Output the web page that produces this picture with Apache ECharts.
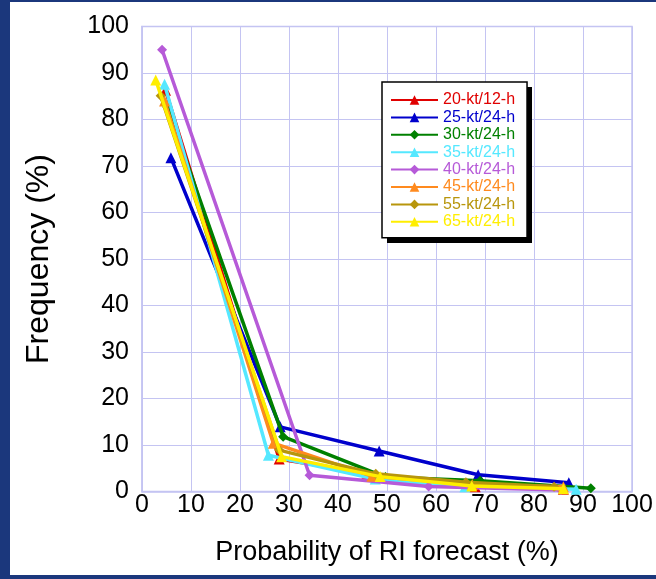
<!DOCTYPE html>
<html>
<head>
<meta charset="utf-8">
<script src="https://cdn.jsdelivr.net/npm/echarts@6/dist/echarts.min.js"></script>
<style>
  html, body { margin: 0; padding: 0; width: 656px; height: 579px; background: #1b377c; overflow: hidden; }
  #panel { position: absolute; left: 10px; top: 2px; width: 646px; height: 573px; background: #ffffff; }
  #chart { width: 646px; height: 573px; }
</style>
</head>
<body>
<div id="panel"><div id="chart"></div></div>
<script>
// Reliability of rapid-intensification (RI) forecasts: frequency vs forecast probability
const seriesNames = ['20-kt/12-h', '25-kt/24-h', '30-kt/24-h', '35-kt/24-h', '40-kt/24-h', '45-kt/24-h', '55-kt/24-h', '65-kt/24-h'];
const seriesColors = ['#e00000', '#0000cc', '#008000', '#55e8ff', '#b65ad8', '#ff8a1e', '#b8960c', '#ffee00'];
const seriesSymbols = ['triangle', 'triangle', 'diamond', 'triangle', 'diamond', 'triangle', 'diamond', 'triangle'];

// [probability %, frequency %]
const kt20h12 = [[4.8, 86.3], [28.0, 7.0], [45.9, 3.9], [68.0, 1.0], [86.0, 0.5]];
const kt25h24 = [[5.9, 71.8], [28.2, 13.9], [48.4, 8.7], [68.6, 3.6], [87.1, 1.9]];
const kt30h24 = [[5.2, 82.6], [28.8, 11.8], [49.7, 3.1], [69.0, 2.3], [91.6, 0.7]];
const kt35h24 = [[4.6, 87.6], [25.8, 7.8], [47.6, 2.7], [65.9, 1.0], [88.6, 0.5]];
const kt40h24 = [[4.1, 95.0], [34.2, 3.5], [58.5, 1.1], [85.5, 0.3]];
const kt45h24 = [[4.6, 84.0], [26.8, 10.4], [46.9, 3.3], [67.4, 1.5], [86.0, 1.0]];
const kt55h24 = [[3.8, 85.1], [28.0, 8.9], [47.7, 3.8], [66.1, 2.0], [84.1, 1.0]];
const kt65h24 = [[2.8, 88.5], [28.5, 7.5], [48.6, 3.2], [67.3, 1.2], [86.0, 0.6]];
const seriesData = [kt20h12, kt25h24, kt30h24, kt35h24, kt40h24, kt45h24, kt55h24, kt65h24];

const xTicks = [0, 10, 20, 30, 40, 50, 60, 70, 80, 90, 100];
const yTicks = [0, 10, 20, 30, 40, 50, 60, 70, 80, 90, 100];

const gridColor = '#c4c4f2';
const font = 'Arial, "Liberation Sans", sans-serif';

// legend frame geometry (chart-relative pixels)
const legendBox = { x: 372, y: 80, w: 145, h: 156 };

const chart = echarts.init(document.getElementById('chart'), null, { renderer: 'canvas' });

chart.setOption({
  backgroundColor: '#ffffff',
  animation: false,
  textStyle: { fontFamily: font },
  grid: {
    left: 132, top: 24.5, width: 490, height: 465,
    show: true, borderColor: gridColor, borderWidth: 1.5, backgroundColor: '#ffffff'
  },
  graphic: [{
    type: 'rect',
    z: 20,
    shape: { x: legendBox.x + 5, y: legendBox.y + 5, width: legendBox.w, height: legendBox.h },
    style: { fill: '#000' }
  }],
  xAxis: {
    type: 'value',
    min: xTicks[0], max: xTicks[xTicks.length - 1], interval: 10,
    axisLine: { show: true, lineStyle: { color: gridColor, width: 1.5 } },
    axisTick: { show: false },
    splitLine: { show: true, lineStyle: { color: gridColor, width: 1 } },
    axisLabel: { color: '#000', fontSize: 25, fontFamily: font, margin: 1 },
    name: 'Probability of RI forecast (%)',
    nameLocation: 'middle',
    nameGap: 48,
    nameTextStyle: { color: '#000', fontSize: 27, fontFamily: font }
  },
  yAxis: {
    type: 'value',
    min: yTicks[0], max: yTicks[yTicks.length - 1], interval: 10,
    axisLine: { show: true, lineStyle: { color: gridColor, width: 1.5 } },
    axisTick: { show: false },
    splitLine: { show: true, lineStyle: { color: gridColor, width: 1 } },
    axisLabel: { color: '#000', fontSize: 25, fontFamily: font, margin: 13, padding: [0, 0, 8, 0] },
    name: 'Frequency (%)',
    nameLocation: 'middle',
    nameGap: 87,
    nameTextStyle: { color: '#000', fontSize: 32, fontFamily: font }
  },
  legend: {
    orient: 'vertical',
    left: legendBox.x, top: legendBox.y,
    z: 30,
    padding: [10, 12, 8, 8],
    itemWidth: 47, itemHeight: 12, itemGap: 1.4,
    backgroundColor: '#ffffff',
    borderColor: '#000', borderWidth: 1.5, borderRadius: 0,
    textStyle: { fontSize: 16, fontFamily: font },
    data: seriesNames.map((n, i) => ({ name: n, textStyle: { color: seriesColors[i] } }))
  },
  series: seriesNames.map((n, i) => ({
    name: n,
    type: 'line',
    data: seriesData[i],
    symbol: seriesSymbols[i],
    symbolSize: seriesSymbols[i] === 'triangle' ? 11 : 10,
    itemStyle: { color: seriesColors[i] },
    lineStyle: { color: seriesColors[i], width: 3.5 },
    z: 2 + i
  }))
});
</script>
</body>
</html>
